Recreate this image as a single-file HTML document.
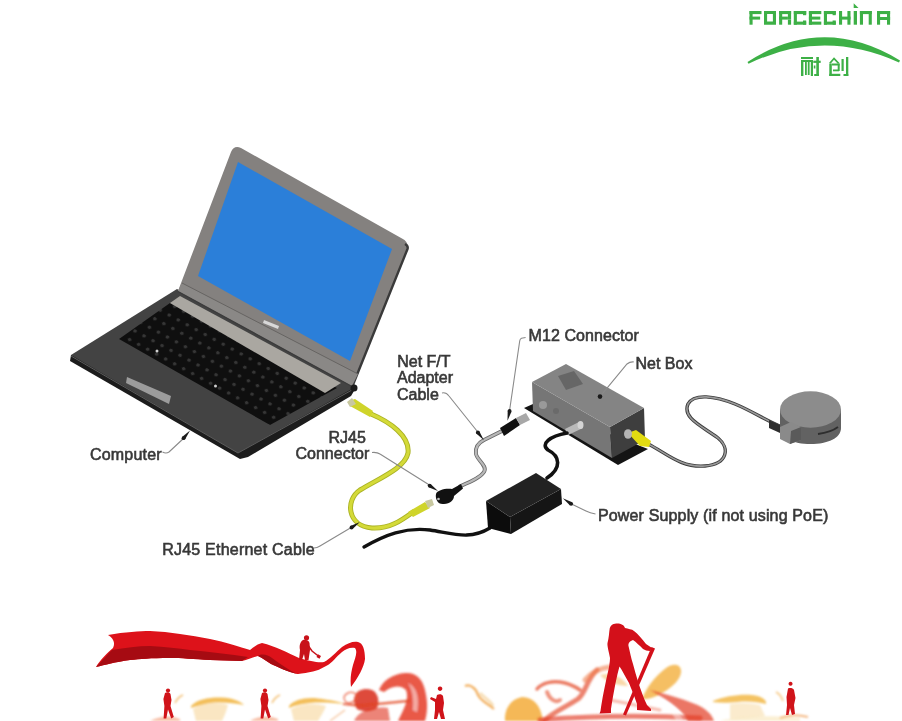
<!DOCTYPE html>
<html><head><meta charset="utf-8">
<style>
html,body{margin:0;padding:0;background:#fff;}
body{width:902px;height:721px;overflow:hidden;position:relative;}
svg{position:absolute;left:0;top:0;filter:blur(0.4px);}
.lbl{font-family:"Liberation Sans",sans-serif;font-size:16px;fill:#383838;stroke:#383838;stroke-width:0.6px;}
</style></head><body>
<svg width="902" height="721" viewBox="0 0 902 721">
<defs>
  <filter id="b05" x="-10%" y="-10%" width="120%" height="120%"><feGaussianBlur stdDeviation="0.5"/></filter>
  <filter id="b1" x="-20%" y="-20%" width="140%" height="140%"><feGaussianBlur stdDeviation="1"/></filter>
  <filter id="b2" x="-30%" y="-30%" width="160%" height="160%"><feGaussianBlur stdDeviation="2"/></filter>
</defs>

<!-- ============ LOGO ============ -->
<g id="logo" fill="#3db046">
  <!-- F -->
  <rect x="749.5" y="11" width="3.1" height="13.7"/>
  <rect x="749.5" y="11" width="12" height="3.1"/>
  <rect x="749.5" y="16.6" width="10.6" height="3"/>
  <!-- O -->
  <path d="M764,11h12v13.7h-12z M767.1,14.1v7.5h5.8v-7.5z" fill-rule="evenodd"/>
  <!-- R -->
  <rect x="779.1" y="11" width="3.1" height="13.7"/>
  <rect x="779.1" y="11" width="12" height="3.1"/>
  <rect x="787.9" y="11" width="3.2" height="8.6"/>
  <rect x="779.1" y="16.6" width="8.8" height="3"/>
  <rect x="787.9" y="19.6" width="3.2" height="5.1"/>
  <!-- C -->
  <rect x="793.8" y="11" width="3.1" height="13.7"/>
  <rect x="793.8" y="11" width="12.4" height="3.1"/>
  <rect x="793.8" y="21.6" width="12.4" height="3.1"/>
  <rect x="803" y="11" width="3.2" height="4.2"/>
  <rect x="803" y="20.5" width="3.2" height="4.2"/>
  <!-- E -->
  <rect x="808.9" y="11" width="3.1" height="13.7"/>
  <rect x="808.9" y="11" width="12.4" height="3.1"/>
  <rect x="808.9" y="16.6" width="11.4" height="3"/>
  <rect x="808.9" y="21.6" width="12.4" height="3.1"/>
  <!-- C -->
  <rect x="823.9" y="11" width="3.1" height="13.7"/>
  <rect x="823.9" y="11" width="11.9" height="3.1"/>
  <rect x="823.9" y="21.6" width="11.9" height="3.1"/>
  <rect x="832.6" y="11" width="3.2" height="4.2"/>
  <rect x="832.6" y="20.5" width="3.2" height="4.2"/>
  <!-- H -->
  <rect x="839" y="11" width="3.1" height="13.7"/>
  <rect x="847.4" y="11" width="3.1" height="13.7"/>
  <rect x="839" y="16.6" width="11.5" height="3"/>
  <!-- I -->
  <rect x="853.7" y="11" width="3.3" height="13.7"/>
  <polygon points="853.7,3.2 853.7,8 858.5,8"/>
  <!-- N -->
  <rect x="859.9" y="11" width="3.1" height="13.7"/>
  <rect x="868.7" y="11" width="3.1" height="13.7"/>
  <rect x="859.9" y="11" width="11.9" height="3.1"/>
  <!-- A -->
  <rect x="877" y="11" width="3.1" height="13.7"/>
  <rect x="887" y="11" width="3.1" height="13.7"/>
  <rect x="877" y="11" width="13.1" height="3.1"/>
  <rect x="877" y="17" width="13.1" height="3"/>
  <!-- arc -->
  <path d="M747.5,62 Q823,13.5 900,60.5 L899,62.5 Q823,28 748.5,63.8z"/>
  <!-- 耐 -->
  <g>
    <rect x="801" y="57" width="12" height="2"/>
    <rect x="801" y="60" width="12" height="2"/>
    <rect x="801" y="60" width="2.4" height="16"/>
    <rect x="810.8" y="60" width="2.2" height="16"/>
    <rect x="805" y="62" width="1.8" height="13"/>
    <rect x="807.8" y="62" width="1.8" height="13"/>
    <rect x="813.3" y="60.7" width="7.4" height="2.2"/>
    <rect x="816.3" y="57" width="2.6" height="19"/>
    <rect x="814.2" y="74" width="4.7" height="2"/>
    <rect x="813.8" y="65.5" width="1.6" height="3"/>
  </g>
  <!-- 创 -->
  <g>
    <path d="M829,63 L834,57.3 L839.5,63 L837.6,63.6 L834,59.8 L830.8,63.6z"/>
    <rect x="829.3" y="63.5" width="2.5" height="12.5"/>
    <rect x="829.3" y="73.8" width="11" height="2.2"/>
    <rect x="832" y="63.5" width="7.5" height="2"/>
    <rect x="837.7" y="63.5" width="2" height="7.5"/>
    <rect x="833" y="69.5" width="6" height="1.8"/>
    <rect x="841.5" y="59" width="2.2" height="12"/>
    <rect x="846" y="57" width="2.3" height="19"/>
    <rect x="843.5" y="74" width="4.8" height="2"/>
  </g>
</g>

<!-- ============ LAPTOP ============ -->
<g id="laptop">
  <defs>
    <pattern id="keys" patternUnits="userSpaceOnUse" width="9" height="9" patternTransform="matrix(1,0.54,-0.6,0.95,0,0)">
      <rect width="9" height="9" fill="#0f0f0f"/>
      <rect x="3" y="3" width="3.2" height="3.2" rx="1.6" fill="#363636"/>
    </pattern>
  </defs>
  <!-- base slab bottom -->
  <polygon points="71,355 70,361 240,459 248,457 351,396 357,386" fill="#1c1c1c"/>
  <!-- base top -->
  <polygon points="71,355 177,289 357,386 238,453" fill="#434343"/>
  <path d="M71,356 L238,453 L352,390" fill="none" stroke="#5c5c5c" stroke-width="1"/>
  <!-- keyboard -->
  <polygon points="119,339 170,303 337,388 270,425" fill="url(#keys)"/>
  <!-- silver strip -->
  <polygon points="170,303 180,296 341,383 325,393" fill="#aaa7a1"/>
  <!-- touchpad bar -->
  <polygon points="127,377 171,396 169,404 126,383" fill="#9c9c9c"/>
  <!-- lid -->
  <path d="M231,152 Q234,145 241,148 L402,238.5 Q409,242 407.5,249 L352,386 L178,291z" fill="#84817f"/>
  <path d="M405,244 Q408.5,246 407.5,249 L352.5,386" fill="none" stroke="#3a3a3a" stroke-width="2.4"/>
  <!-- hinge band -->
  <polygon points="182,283 358,374 352,386 178,291" fill="#8a8886"/>
  <path d="M182,283 L358,374" stroke="#666462" stroke-width="1" fill="none"/>
  <path d="M178,291.5 L352,386.5" stroke="#3c3c3c" stroke-width="1.3" fill="none"/>
  <!-- screen -->
  <polygon points="238,162 392,249 350,361 198,276" fill="#2b7fd9"/>
  <!-- asus logo -->
  <polygon points="264,320 279,326 278,329 263,323" fill="#d8d8d8"/>
  <circle cx="354" cy="388" r="3.5" fill="#1a1a1a"/>
  <!-- key highlights -->
  <circle cx="157" cy="351" r="1.5" fill="#cfcfcf"/>
  <circle cx="215.5" cy="386" r="1.5" fill="#cfcfcf"/>
</g>

<!-- ============ CABLES & DEVICES ============ -->
<g id="devices">
  <!-- sensor cable -->
  <path d="M648,444 C665,452 680,468 705,466 C728,464 730,448 718,438 C702,426 682,418 688,404 C694,393 715,396 735,404 C752,411 765,420 782,427" fill="none" stroke="#3a3a3a" stroke-width="3.4" stroke-linecap="round"/>
  <path d="M648,444 C665,452 680,468 705,466 C728,464 730,448 718,438 C702,426 682,418 688,404 C694,393 715,396 735,404 C752,411 765,420 782,427" fill="none" stroke="#9a9a9a" stroke-width="1.6" stroke-linecap="round"/>
  <!-- sensor -->
  <path d="M780,410 L780,428 C780,438 793,444 810.5,444 C828,444 841,438 841,428 L841,410z" fill="#626262"/>
  <ellipse cx="810.5" cy="409.5" rx="30.5" ry="18.2" fill="#8c8c8c"/>
  <path d="M818,434 C826,433 834,430 838,427" stroke="#2e2e2e" stroke-width="1.8" fill="none"/>
  <polygon points="780,427 791,422 801,427 801,440 790,444 780,439" fill="#8a8a8a"/>
  <polygon points="791,431 801,427 801,440 790,444" fill="#5a5a5a"/>
  <polygon points="769,420 780,425 780,433 769,428" fill="#2e2e2e"/>
  <!-- net box base plate -->
  <polygon points="524,408 533,404 648,449 618,465" fill="#141414"/>
  <!-- net box front face -->
  <polygon points="532,382 610,427 612,458 533,411" fill="#767676"/>
  <!-- net box right face -->
  <polygon points="610,427 644,408 645,440 612,458" fill="#3e3e3e"/>
  <!-- net box top face -->
  <polygon points="532,382 566,364 644,408 610,427" fill="#848484"/>
  <polygon points="558,376 574,371 583,384 566,390" fill="#666"/>
  <!-- connectors on front -->
  <circle cx="543" cy="405" r="4" fill="#9a9a9a"/>
  <circle cx="556" cy="411" r="3" fill="#6a6a6a"/>
  <polygon points="565,429 579,422 583,428 568,435" fill="#b9b9b9"/>
  <ellipse cx="580.5" cy="425" rx="3" ry="4" fill="#d4d4d4"/>
  <!-- yellow connector on right face -->
  <polygon points="628,433 636,430 651,441 649,447 640,446" fill="#e2dc10"/>
  <ellipse cx="628" cy="434" rx="4" ry="4.8" fill="#b4b4b4"/>

  <!-- PSU output cable -->
  <path d="M547,478 C562,468 560,456 548,450 C540,444 550,436 567,433" fill="none" stroke="#111" stroke-width="3.6" stroke-linecap="round"/>
  <!-- power cable -->
  <path d="M364,547 C385,535 405,527 430,530 C455,534 470,540 490,528" fill="none" stroke="#111" stroke-width="3.4" stroke-linecap="round"/>
  <!-- PSU -->
  <polygon points="486,501 510,517 511,534 488,528" fill="#0c0c0c"/>
  <polygon points="510,517 561,489 562,504 511,534" fill="#151515"/>
  <polygon points="486,501 536,473 561,489 510,517" fill="#222"/>

  <!-- adapter gray cable -->
  <path d="M460,486.3 C470,482 480,478 484,472 C488,466 477,460 476,454 C475,448 478,443 484,440 C490,437 496,434 502,431" fill="none" stroke="#666" stroke-width="3.8" stroke-linecap="round"/>
  <path d="M460,486.3 C470,482 480,478 484,472 C488,466 477,460 476,454 C475,448 478,443 484,440 C490,437 496,434 502,431" fill="none" stroke="#b8b8b8" stroke-width="2.2" stroke-linecap="round"/>
  <!-- M12 connector -->
  <polygon points="500,428 516,418 520,425 504,436" fill="#111"/>
  <polygon points="516,418 526,413 530,420 520,425" fill="#a8a8a8"/>
  <!-- RJ45 black connector -->
  <path d="M436,494 C437,490 446,488 452,489 L461,484 L463,488.5 L454,496 C454,500 450,504 444,504 C438,505 435,499 436,494z" fill="#111"/>
  <circle cx="438.5" cy="499" r="1.3" fill="#bbb"/>

  <!-- yellow ethernet cable -->
  <path d="M371,414 C390,422 410,436 408,453 C405,468 380,478 360,490 C345,500 347,526 372,528 C390,529 402,520 413,512" fill="none" stroke="#aab224" stroke-width="5" stroke-linecap="round"/>
  <path d="M371,414 C390,422 410,436 408,453 C405,468 380,478 360,490 C345,500 347,526 372,528 C390,529 402,520 413,512" fill="none" stroke="#d4da38" stroke-width="3.2" stroke-linecap="round"/>
  <polygon points="349,401 355,399 373,411 370,417 350,406" fill="#cfd42a"/>
  <polygon points="347,402 352,398 356,404 350,407" fill="#c8c8a0"/>
  <polygon points="408,512 425,502 430,508 413,517" fill="#cfd42a"/>
  <polygon points="425,501 432,499 434,505 428,508" fill="#c8c8a0"/>
</g>

<!-- ============ LEADERS ============ -->
<g fill="none" stroke="#8a8a8a" stroke-width="1.1">
  <path d="M162.5,452 Q166,454 169,452 L184,438"/>
  <path d="M372,452.5 Q377,452 380,454 L431,486"/>
  <path d="M314,548 Q317,548 320,546 L352,527"/>
  <path d="M442,393 Q446,392 449,396 L477,431"/>
  <path d="M525.6,337.5 L521.5,338.3 Q520,339 519.7,341 L509.5,411"/>
  <path d="M633.7,361.9 Q630,361.5 627,364 L600,396.6"/>
  <path d="M595.5,514 Q590,513 586,511 L571,503.8"/>
</g>
<g fill="#1a1a1a">
  <polygon points="185.0,439.5 190.0,430.6 182.1,437.0"/><circle cx="183.5" cy="438.2" r="1.9"/>
  <polygon points="352.6,529.1 359.9,522.0 350.5,525.9"/><circle cx="351.5" cy="527.5" r="1.9"/>
  <polygon points="572.2,502.2 562.8,498.3 570.1,505.4"/><circle cx="571.2" cy="503.8" r="1.9"/>
  <polygon points="476.3,433.6 483.9,440.3 479.3,431.2"/><circle cx="477.8" cy="432.4" r="1.9"/>
  <polygon points="428.5,487.2 438.0,491.0 430.6,484.0"/><circle cx="429.6" cy="485.6" r="1.9"/>
  <polygon points="507.7,410.6 507.5,420.8 511.5,411.4"/><circle cx="509.6" cy="411.0" r="1.9"/>
  <circle cx="600" cy="396.6" r="2.3"/>
</g>

<!-- ============ BOTTOM ART ============ -->
<g id="art">
  <!-- ribbon -->
  <path d="M96,667 C100,660 108,652 113,648 C116,642 112,637 108,635 C125,632 140,631 150,631 C170,632 190,635 210,639 C225,642 240,647 250,650 C253,648 257,644 262,643 C275,646 288,653 299,658 C310,661 318,663 324,662 C330,659 336,652 342,647 C348,643 353,641 358,642 C363,643 365,650 365,659 C364,667 358,678 351,687 C350,680 351,672 353,665 C355,658 358,652 355,648 C350,647 346,649 342,652 C336,657 332,663 327,665.5 C321,669 316,671 313,671.5 C306,673 300,674 297,674 C288,672 278,667 271,664 C266,661 263,658 258,656 C254,657 248,660 242,661 C230,661 220,660 210,660 C195,659 180,658 170,658 C150,658 140,659 130,660 C115,662 105,665 96,667z" fill="#dd121a"/>
  <path d="M96,667 C103,660 108,654 112,650 C125,648 138,646 150,646 C165,647 178,648 190,650 C210,652 230,654 248,657 C245,659 243,660 242,661 C230,661 220,660 210,660 C195,659 180,658 170,658 C150,658 140,659 130,660 C115,662 105,665 96,667z" fill="#a60b12"/>
  <path d="M258,656 C263,658 266,661 271,664 C278,667 288,672 297,674 C289,670 280,664 272,658 C268,655 262,653 258,656z" fill="#a60b12"/>
  <!-- worker on ribbon -->
  <g fill="#c8121a">
    <circle cx="306.5" cy="637.8" r="2.6"/>
    <path d="M303,640 C305,639.5 309,640 309.5,643 L310,650 L308.5,660 L305,660 L304,654 L302,660 L299,660 L300,650 C299,646 300,642 303,640z"/>
    <path d="M307,644 L312,651 L319,656.5" fill="none" stroke="#c8121a" stroke-width="1.5"/>
    <rect x="317" y="655" width="3.5" height="3" transform="rotate(30 318.7 656.5)"/>
  </g>
  <!-- flames soft (yellow/orange) -->
  <g filter="url(#b1)">
    <path d="M191,706 C197,699 210,697 222,697.5 C232,698 240,701 244,705 C234,703 222,702 210,703 C203,704 197,706 191,708z" fill="#f2b848" opacity="0.9"/>
    <path d="M193,709 C203,702 218,702 228,705 C226,712 224,717 222,721 L196,721z" fill="#f6d290" opacity="0.55"/>
    <path d="M175,703 C177,699 180,696 183,695" stroke="#f0b050" stroke-width="1.6" fill="none" opacity="0.8"/>
    <path d="M289,706 C294,700 305,697 318,698.5 C330,700 340,702 345,704 C336,703 322,702 310,703 C300,704 294,706 289,708z" fill="#f2b848" opacity="0.9"/>
    <path d="M291,709 C301,703 316,703 326,706 C324,712 320,717 318,721 L294,721z" fill="#f6d290" opacity="0.55"/>
    <path d="M272,703 C274,699 277,696 280,695" stroke="#f0b050" stroke-width="1.6" fill="none" opacity="0.8"/>
    <path d="M150,721 C160,716 170,715 180,719 L180,721z" fill="#f08050" opacity="0.5"/>
    <path d="M250,721 C258,716 268,715 278,719 L278,721z" fill="#f08050" opacity="0.5"/>
    <path d="M465,686 C470,684 476,688 478,695 C481,701 488,704 494,709" stroke="#f0a040" stroke-width="2.2" fill="none" opacity="0.85"/>
    <path d="M480,693 C484,698 490,700 493,706" stroke="#f0c070" stroke-width="3" fill="none" opacity="0.5"/>
    <path d="M505,721 C504,710 510,699 522,697 C534,697 541,706 543,721z" fill="#f3ac38" opacity="0.85"/>
    <path d="M642,699 C646,688 655,676 666,668 C673,663 680,664 681,670 C682,678 674,686 664,692 C655,697 648,700 642,699z" fill="#f3b448" opacity="0.85"/>
    <path d="M600,675 C610,672 622,676 628,686 C618,686 606,682 600,675z" fill="#f5c070" opacity="0.6"/>
    <path d="M713,701 C725,696 740,694 752,695 C762,696 767,700 766,704 C758,702 748,701 738,702 C728,703 720,703 713,702z" fill="#f2b848" opacity="0.85"/>
    <path d="M730,704 C740,702 752,703 760,705 L765,716 L730,719z" fill="#f6d290" opacity="0.45"/>
    <path d="M780,718 C790,714 800,715 808,717" stroke="#f09a50" stroke-width="2" fill="none" opacity="0.7"/>
    <path d="M720,721 C740,716 770,715 800,718 L800,721z" fill="#f4d080" opacity="0.35"/>
    <path d="M776,692 C780,694 782,698 783,701" stroke="#f3b050" stroke-width="1.5" fill="none" opacity="0.7"/>
  </g>
  <g filter="url(#b1)" fill="none" stroke-linecap="round">
    <path d="M537,689 C542,683 552,680 565,683 C572,685 576,687 580,690" stroke="#e65a3c" stroke-width="3.5" opacity="0.8"/>
    <path d="M547,692 C550,700 556,703 560,700" stroke="#e65a3c" stroke-width="4" opacity="0.65"/>
    <path d="M544,721 C553,712 566,707 578,699 C586,693 586,680 597,670" stroke="#e65a3c" stroke-width="5" opacity="0.75"/>
    <path d="M585,680 C592,672 600,668 610,667" stroke="#f08050" stroke-width="5" opacity="0.6"/>
    <path d="M540,720 C590,716 640,715 700,718" stroke="#e23a22" stroke-width="5" opacity="0.65"/>
    <path d="M610,700 C625,703 640,706 660,710" stroke="#ee6a50" stroke-width="3" opacity="0.45"/>
  </g>
  <g filter="url(#b1)">
    <path d="M650,690 C665,694 680,698 695,704 C705,708 712,714 714,721 L688,721 C684,712 672,702 650,690z" fill="#e23a22" opacity="0.7"/>
    <path d="M662,700 C672,706 680,712 684,721 L676,721 C672,712 668,706 662,700z" fill="#fff" opacity="0.4"/>
  </g>
  <!-- red smoke -->
  <g filter="url(#b1)">
    <path d="M379,690 C383,680 393,674 405,673 C417,672 424,680 426,695 C428,705 427,714 425,721 L398,721 C402,712 410,700 406,690 C400,684 391,686 384,692z" fill="#e4301c" opacity="0.8"/>
    <path d="M408,683 C413,690 414,700 413,710 L417,712 C419,700 418,688 408,683z" fill="#fff" opacity="0.5"/>
    <path d="M354,699 C355,690 364,687 372,690 C378,693 380,701 377,708 C372,712 362,712 357,709 C355,706 354,703 354,699z" fill="#d82a18" opacity="0.85"/>
    <path d="M344,697 C346,692 352,691 356,694 C358,699 354,703 348,703 C345,702 344,700 344,697z" fill="none" stroke="#e85030" stroke-width="1.5" opacity="0.7"/>
    <path d="M343,703 L360,704.5 L410,699.5 L410,702 L360,707 L343,705z" fill="#e0401e" opacity="0.75"/>
    <path d="M354,721 C358,712 370,706 388,708 L390,721z" fill="#e0341c" opacity="0.6"/>
    <path d="M330,721 L345,710" stroke="#f0a060" stroke-width="1.5" fill="none" opacity="0.6"/>
  </g>
  <!-- red small figures -->
  <g fill="#d0141a">
    <g transform="translate(0,0)"><circle cx="168" cy="690.5" r="2.1"/><path d="M165,693 C167,692 169.5,692 170.5,694 L171.5,700 L170.5,706 L173.8,717 L171.2,718.5 L168,709.5 L166.3,718.5 L163.6,718.5 L164.4,706 L163.4,699z"/></g>
    <g transform="translate(97,0)"><circle cx="168" cy="690.5" r="2.1"/><path d="M165,693 C167,692 169.5,692 170.5,694 L171.5,700 L170.5,706 L173.8,717 L171.2,718.5 L168,709.5 L166.3,718.5 L163.6,718.5 L164.4,706 L163.4,699z"/></g>
    <path d="M440,691 a2.3,2.3 0 1,1 0.1,0 z M437,695 C439,694 442,694 443,696 L444,703 L443,710 L445,719 L441,719 L439,712 L437,719 L434,719 L435,710 L435,702 L430,699 L431,697 L436,699z"/>
    <path d="M790.5,685.8 a2,2 0 1,1 0.1,0 z M788,688.5 C790,687.5 793,688 794,690 L795.5,698 L794,705 L795,714 L792,715 L790,708 L788.5,715 L786,715 L787,705 L786.5,697z"/>
  </g>
  <!-- big worker -->
  <g fill="#d3101a">
    <path d="M615,623.8 C620,623 624,625 625,628 C628,629 632,629 634,631 C638,634 642,639 646,644 L652,648 L650,651 C647,651 645,650 643,649 C640,646 636,642 633,640 C630,641 628,643 628.5,646 C630,652 631,658 633,664 C636,675 640,690 647,705 L651,709 L651,711 L637,710 L637,704 C634,695 631,688 629,683 C625,676 622,670 619.5,666.5 C617,675 614,690 611,709 L611,713 L599.5,713.5 L600.5,711 C602,700 605,685 607.5,674 C609,668 610,662 610,658 C609,652 607,646 607.5,643 C609,638 609,632 609.8,628 C611,625 613,624 615,623.8z"/>
    <polygon points="651.5,647 655,648.5 626,715.5 623,714.5"/>
  </g>
</g>

<!-- ============ LABELS ============ -->
<g>
  <text class="lbl" x="90" y="459.5" textLength="71.6" lengthAdjust="spacing">Computer</text>
  <text class="lbl" x="328.5" y="443">RJ45</text>
  <text class="lbl" x="295.5" y="459">Connector</text>
  <text class="lbl" x="162.2" y="554.5" textLength="152.5" lengthAdjust="spacing">RJ45 Ethernet Cable</text>
  <text class="lbl" x="397.2" y="366.5">Net F/T</text>
  <text class="lbl" x="397" y="383">Adapter</text>
  <text class="lbl" x="397" y="400">Cable</text>
  <text class="lbl" x="528.5" y="340.5" textLength="110.4" lengthAdjust="spacing">M12 Connector</text>
  <text class="lbl" x="635.5" y="368.5">Net Box</text>
  <text class="lbl" x="598" y="520.5" textLength="230.3" lengthAdjust="spacing">Power Supply (if not using PoE)</text>
</g>

</svg>
</body></html>
